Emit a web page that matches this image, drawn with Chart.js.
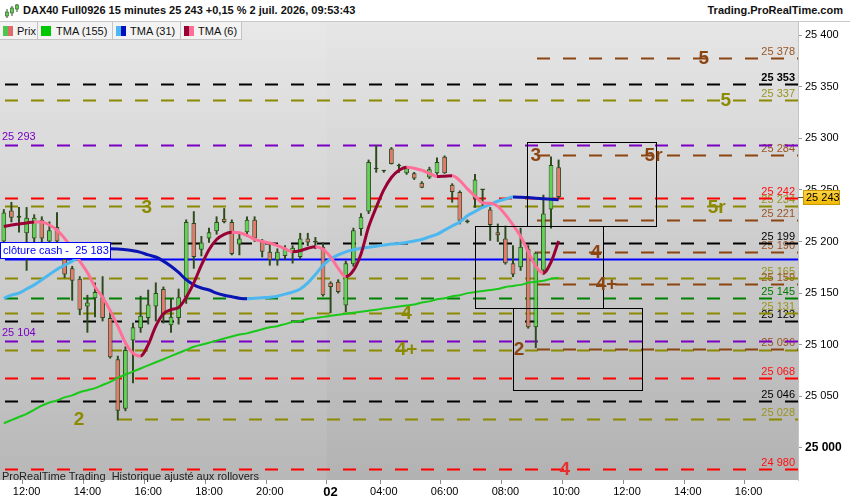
<!DOCTYPE html>
<html>
<head>
<meta charset="utf-8">
<script src="https://cdn.jsdelivr.net/npm/chart.js@4.4.1/dist/chart.umd.min.js"></script>
<style>
body{margin:0;background:#fff;font-family:Arial,"Liberation Sans",sans-serif;}
#wrap{position:relative;width:850px;height:500px;overflow:hidden;}
canvas{position:absolute;left:0;top:0;}
#head{position:absolute;left:0;top:0;width:850px;height:22px;background:#fff;border-bottom:1px solid #c8c8c8;box-sizing:border-box;}
#title{position:absolute;left:23px;top:4px;font-weight:bold;font-size:11px;color:#111;white-space:nowrap;}
#site{position:absolute;right:7px;top:4px;font-weight:bold;font-size:11px;color:#111;}
#icon{position:absolute;left:4px;top:4px;}
#legend{position:absolute;left:0;top:22px;height:18px;display:flex;}
.item{height:18px;box-sizing:border-box;border:1px solid #c4c4c4;border-top:none;border-left:none;background:#f3f3f3;font-size:11px;display:flex;align-items:center;padding-left:3px;color:#111;white-space:nowrap;}
.sw{display:inline-block;width:5px;height:10px;flex:none;}
#foot{position:absolute;left:2px;top:470px;font-size:11px;color:#222;white-space:nowrap;}
</style>
</head>
<body>
<div id="wrap">
  <canvas id="chart-dax" width="850" height="500"></canvas>
  <div id="head">
    <svg id="icon" width="15" height="15" viewBox="0 0 15 15">
      <line x1="3" y1="5" x2="3" y2="14" stroke="#2f4f1f"/><rect x="1.5" y="8" width="3" height="4" fill="#5ad24f" stroke="#2f4f1f" stroke-width="0.6"/>
      <line x1="8" y1="2" x2="8" y2="12" stroke="#2f4f1f"/><rect x="6.5" y="4" width="3" height="5" fill="#5ad24f" stroke="#2f4f1f" stroke-width="0.6"/>
      <line x1="13" y1="0" x2="13" y2="8" stroke="#2f4f1f"/><rect x="11.5" y="1" width="3" height="4" fill="#5ad24f" stroke="#2f4f1f" stroke-width="0.6"/>
    </svg>
    <div id="title">DAX40 Full0926 15 minutes 25 243 +0,15 % 2 juil. 2026, 09:53:43</div>
    <div id="site">Trading.ProRealTime.com</div>
  </div>
  <div id="legend">
    <div class="item" style="width:38px"><span class="sw" style="background:#4ec64e"></span><span class="sw" style="background:#e06a6a"></span><span style="margin-left:4px">Prix</span></div>
    <div class="item" style="width:75px"><span class="sw" style="width:10px;background:#00c800"></span><span style="margin-left:5px">TMA (155)</span></div>
    <div class="item" style="width:68px"><span class="sw" style="background:#4db8f0"></span><span class="sw" style="background:#0010c0"></span><span style="margin-left:4px">TMA (31)</span></div>
    <div class="item" style="width:61px"><span class="sw" style="background:#990033"></span><span class="sw" style="background:#ff6f98"></span><span style="margin-left:4px">TMA (6)</span></div>
  </div>
  <div id="foot">ProRealTime Trading&nbsp; Historique ajusté aux rollovers</div>
</div>
<script>
const FONT = "Arial, 'Liberation Sans', sans-serif";

// sessions shown: day 1 from 11:15 to 21:45, day 2 from 02:15 (empty bars after 09:45)
const sessions = [["1", "11:15", "21:45"], ["2", "02:15", "17:30"]];
const tickBars = ["1 12:00","1 14:00","1 16:00","1 18:00","1 20:00","2 02:15","2 04:00","2 06:00","2 08:00","2 10:00","2 12:00","2 14:00","2 16:00"];
const tickTexts = ["12:00","14:00","16:00","18:00","20:00","02","04:00","06:00","08:00","10:00","12:00","14:00","16:00"];
const yTicks = [25000, 25050, 25100, 25150, 25200, 25250, 25300, 25350, 25400];

const opens = [25200,25230,25223,25208,25203,25221,25200,25214,25183,25174,
  25164,25137,25145,25146,25126,25086,25038,25104,25116,25126,
  25137,25154,25119,25126,25146,25218,25192,25203,25210,25222,
  25219,25197,25209,25221,25200,25190,25182,25186,25189,25185,
  25203,25199,25195,25160,25161,25138,25178,25212,25229,25270,
  25268,25290,25273,25266,25266,25257,25262,25266,25282,25255,
  25248,25219,25242,25250,25231,25209,25203,25179,25175,25193,
  25117,25172,25231,25272];
const highs = [25231,25238,25233,25233,25226,25224,25219,25228,25186,25176,
  25166,25148,25160,25166,25131,25089,25098,25121,25147,25153,
  25160,25156,25145,25154,25221,25229,25205,25213,25224,25232,
  25221,25209,25224,25224,25202,25198,25193,25196,25196,25208,
  25208,25204,25199,25161,25163,25181,25213,25227,25279,25293,
  25269,25291,25275,25272,25267,25258,25272,25281,25283,25256,
  25249,25221,25265,25250,25233,25217,25215,25196,25213,25196,
  25190,25245,25282,25279];
const lows = [25198,25219,25209,25172,25199,25198,25196,25195,25165,25143,
  25129,25112,25127,25123,25087,25027,25036,25063,25112,25120,
  25123,25121,25112,25120,25140,25174,25186,25199,25207,25218,
  25187,25187,25205,25200,25185,25177,25177,25183,25179,25183,
  25196,25193,25147,25131,25150,25132,25176,25206,25227,25267,
  25267,25275,25267,25265,25260,25252,25261,25265,25266,25238,
  25217,25218,25233,25233,25201,25200,25178,25166,25172,25116,
  25097,25168,25213,25242];
const closes = [25228,25223,25225,25223,25223,25203,25211,25200,25168,25162,
  25134,25141,25151,25126,25088,25036,25095,25117,25128,25139,
  25150,25129,25127,25146,25219,25185,25199,25209,25219,25219,
  25188,25203,25221,25203,25190,25182,25190,25193,25194,25203,
  25199,25200,25148,25156,25151,25179,25211,25224,25277,25271,
  25268.5,25275,25273,25271,25261,25252,25270,25277,25266,25248,
  25220,25220,25260,25250,25216,25206,25179,25168,25195,25117,
  25189,25227,25274,25243];

const tma155 = [25024,25027,25030,25033,25037,25041,25044,25046,25049,25051,
  25054,25056,25058,25061,25064,25068,25071,25074,25077,25080,
  25083,25086,25089,25092,25095,25098,25100,25102,25104,25106,
  25108,25110,25111,25113,25115,25117,25118,25120,25122,25123,
  25125,25126,25127,25128,25129,25130,25131,25132,25133,25134,
  25135,25136,25137,25138,25139,25141,25142,25144,25145,25147,
  25148,25150,25151,25152,25153,25154,25156,25157,25158,25160,
  25161,25162,25164,25165];
const tma31 = [25145,25148,25150,25154,25158,25163,25168,25173,25177,25181,
  25185,25188,25191,25192.5,25193,25192.8,25192,25191,25189.5,25187,
  25185,25181,25176,25170,25163,25158,25155,25153,25150,25148,
  25146.5,25145,25144.5,25145,25145.5,25146,25147,25149,25151,25154,
  25160,25168,25177,25183,25187,25190,25192,25193.5,25194.5,25195.5,
  25196.5,25197.5,25198,25199,25200.5,25202,25204.5,25207,25211,25215,
  25219,25225,25229,25233,25236,25239,25241,25243,25242.8,25242.5,
  25242,25241.5,25241,25240.5];
const tma6 = [25214.5,25216,25217,25218,25219,25218.8,25216,25211,25203,25193,
  25181,25170,25156,25146,25133,25118,25102,25092,25089,25100,
  25118,25130,25134,25136,25146,25160,25177,25192,25202,25207,
  25209,25208.5,25206,25202,25200,25198.5,25196,25193,25190,25191,
  25193.5,25195,25192.5,25185,25174,25166,25172,25188,25214,25233,
  25250,25262,25269,25272,25271,25269,25266,25263,25263.3,25263.6,
  25259,25251,25244,25237.5,25237,25234,25226,25216,25205,25190,
  25176,25169.5,25180,25200.5];

// horizontal levels drawn on the chart
const levelPrices = [25378,25353,25337,25293,25284,25242,25234,25221,25199,25190,25183,25165,25159,25145,25131,25123,25104,25095,25096,25068,25046,25028,24980];
const levelFrom   = [70,0,0,0,70,0,0,70,0,70,0,0,70,0,0,0,0,0,70,0,0,15,0];
const levelKinds  = ["brown","black","olive","purple","brown","red","olive","brown","black","brown","blue","olive","brown","green","olive","black","purple","olive","brown","red","black","olive","red"];
const levelSide   = ["right","right","right","left","right","right","right","right","right","right","cash","right","right","right","right","right","left","none","right","right","right","right","right"];

// wave labels: text, price, bar position
const waveTexts  = ["5","5","3","5r","3","5r","4","4+","4","4+","2","2","4"];
const wavePrices = [25378,25337,25284,25284,25234,25234,25190,25159,25131,25096,25096,25028,24980];
const waveBars   = [92.1,95,70,85.5,18.8,93.8,77.9,79.3,53,53,67.8,9.9,73.8];
const waveKinds  = ["brown","olive","brown","brown","olive","olive","brown","brown","olive","olive","brown","olive","red"];

// rectangles: bar from/to, price top/bottom
const boxFrom   = [68.9, 62.0, 67.0];
const boxTo     = [85.8, 78.9, 84.0];
const boxTop    = [25296, 25215, 25136];
const boxBottom = [25215, 25136, 25056];

const lastPrice = 25243;

const colors = {
  brown: "#8b4513", black: "#000000", olive: "#8b8a00", purple: "#7a00c4",
  red: "#ff0000", green: "#008000", blue: "#0000ff"
};
const labelColors = { brown: "#9a5524", black: "#000000", olive: "#9a9420", purple: "#7a00c4",
  red: "#ff1010", green: "#007a00", blue: "#0000ff" };

function buildBarTimes() {
  const out = [];
  sessions.forEach(([day, from, to]) => {
    const toMin = s => parseInt(s.slice(0, 2)) * 60 + parseInt(s.slice(3));
    for (let m = toMin(from); m <= toMin(to); m += 15) {
      const hh = String(Math.floor(m / 60)).padStart(2, "0");
      const mm = String(m % 60).padStart(2, "0");
      out.push(day + " " + hh + ":" + mm);
    }
  });
  return out;
}
const barTimes = buildBarTimes();
const dayStart = barTimes.indexOf("2 02:15");

function fmt(v) {
  return String(Math.round(v)).replace(/\B(?=(\d{3})+(?!\d))/g, " ");
}

const bgPlugin = {
  id: "bg",
  beforeDraw(chart) {
    const { ctx, chartArea: a, scales: { x } } = chart;
    ctx.save();
    const g = ctx.createLinearGradient(0, a.top, 0, a.bottom);
    g.addColorStop(0, "#e6e6e6");
    g.addColorStop(1, "#b2b2b2");
    ctx.fillStyle = g;
    ctx.fillRect(a.left, a.top, a.width, a.height);
    const xb = (x.getPixelForValue(dayStart - 1) + x.getPixelForValue(dayStart)) / 2;
    ctx.fillStyle = "rgba(255,255,255,0.08)";
    ctx.fillRect(a.left, a.top, xb - a.left, a.height);
    ctx.restore();
  }
};

const levelsPlugin = {
  id: "levels",
  beforeDatasetsDraw(chart) {
    const { ctx, chartArea: a, scales: { x, y } } = chart;
    const half = (x.getPixelForValue(1) - x.getPixelForValue(0)) / 2;
    ctx.save();
    ctx.beginPath(); ctx.rect(a.left, a.top, a.width, a.height); ctx.clip();
    // labels first, lines on top of them
    ctx.textBaseline = "alphabetic";
    levelPrices.forEach((p, i) => {
      const py = y.getPixelForValue(p);
      const kind = levelKinds[i];
      if (levelSide[i] === "right") {
        ctx.textAlign = "right";
        ctx.fillStyle = labelColors[kind];
        ctx.font = (p === 25353 ? "bold " : "") + "11px " + FONT;
        ctx.fillText(fmt(p), a.right - 3, py - 3);
      } else if (levelSide[i] === "left") {
        ctx.textAlign = "left";
        ctx.fillStyle = labelColors[kind];
        ctx.font = "11px " + FONT;
        ctx.fillText(fmt(p), a.left + 2, py - 5);
      }
    });
    levelPrices.forEach((p, i) => {
      const py = Math.round(y.getPixelForValue(p)) + 0.5;
      const x0 = levelFrom[i] === 0 ? a.left : x.getPixelForValue(levelFrom[i]) - half;
      ctx.beginPath();
      ctx.strokeStyle = colors[levelKinds[i]];
      ctx.lineWidth = 2;
      ctx.setLineDash(levelKinds[i] === "blue" ? [] : [13, 13]);
      ctx.moveTo(x0 + 5, py);
      ctx.lineTo(a.right, py);
      ctx.stroke();
    });
    ctx.restore();
  },
  afterDatasetsDraw(chart) {
    const { ctx, chartArea: a, scales: { x, y } } = chart;
    ctx.save();
    ctx.beginPath(); ctx.rect(a.left, a.top, a.width, a.height); ctx.clip();
    // rectangles
    ctx.strokeStyle = "#000";
    ctx.lineWidth = 1;
    boxFrom.forEach((b, i) => {
      const x0 = Math.round(x.getPixelForValue(b)) + 0.5;
      const x1 = Math.round(x.getPixelForValue(boxTo[i])) + 0.5;
      const y0 = Math.round(y.getPixelForValue(boxTop[i])) + 0.5;
      const y1 = Math.round(y.getPixelForValue(boxBottom[i])) + 0.5;
      ctx.strokeRect(x0, y0, x1 - x0, y1 - y0);
    });
    // wave labels
    ctx.font = "bold 19px " + FONT;
    ctx.textAlign = "center";
    ctx.textBaseline = "middle";
    waveTexts.forEach((t, i) => {
      ctx.fillStyle = waveKinds[i] === "red" ? "#e83030" : colors[waveKinds[i]];
      ctx.fillText(t, x.getPixelForValue(waveBars[i]), y.getPixelForValue(wavePrices[i]) + 1);
    });
    // cash close label
    const ci = levelSide.indexOf("cash");
    const cy = Math.round(y.getPixelForValue(levelPrices[ci]));
    ctx.fillStyle = "#fff";
    ctx.fillRect(a.left, cy - 17, 110, 17);
    ctx.strokeStyle = "#0000ff";
    ctx.strokeRect(a.left + 0.5, cy - 16.5, 110, 16);
    ctx.fillStyle = "#0000ff";
    ctx.font = "11px " + FONT;
    ctx.textAlign = "left";
    ctx.fillText("clôture cash -  " + fmt(levelPrices[ci]), a.left + 3, cy - 8);
    ctx.restore();
  },
  afterDraw(chart) {
    const { ctx, chartArea: a, scales: { y } } = chart;
    const py = Math.round(y.getPixelForValue(lastPrice));
    ctx.save();
    ctx.strokeStyle = "#555";
    ctx.beginPath(); ctx.moveTo(a.right, py + 0.5); ctx.lineTo(a.right + 5, py + 0.5); ctx.stroke();
    const g = ctx.createLinearGradient(0, py - 7, 0, py + 8);
    g.addColorStop(0, "#ffd54a"); g.addColorStop(1, "#f0b800");
    ctx.fillStyle = g;
    ctx.fillRect(a.right + 5, py - 7, 37, 15);
    ctx.strokeStyle = "#c99a00";
    ctx.strokeRect(a.right + 5.5, py - 6.5, 36, 14);
    ctx.fillStyle = "#000";
    ctx.font = "11px " + FONT;
    ctx.textBaseline = "middle";
    ctx.fillText(fmt(lastPrice), a.right + 8, py + 1);
    ctx.restore();
  }
};

const upDown = (up, down) => ctx => ctx.p1.parsed.y >= ctx.p0.parsed.y ? up : down;
const candleFill = ctx => closes[ctx.dataIndex] >= opens[ctx.dataIndex] ? "#5ed452" : "#e8776c";

new Chart(document.getElementById("chart-dax").getContext("2d"), {
  type: "bar",
  data: {
    labels: barTimes,
    datasets: [
      { type: "line", label: "TMA (6)", data: tma6, order: 0, borderWidth: 3, pointRadius: 0,
        cubicInterpolationMode: "monotone", borderColor: "#ff6f98",
        segment: { borderColor: upDown("#990033", "#ff6f98") } },
      { type: "line", label: "TMA (31)", data: tma31, order: 0, borderWidth: 3, pointRadius: 0,
        cubicInterpolationMode: "monotone", borderColor: "#4db8f0",
        segment: { borderColor: upDown("#4db8f0", "#0a14b4") } },
      { type: "line", label: "TMA (155)", data: tma155, order: 0, borderWidth: 2, pointRadius: 0,
        cubicInterpolationMode: "monotone", borderColor: "#19c819" },
      { label: "Prix", data: opens.map((o, i) => [o, closes[i]]), order: 1, grouped: false,
        backgroundColor: candleFill, borderColor: "#2c4a1c", borderWidth: 1, borderSkipped: false,
        barPercentage: 0.62, categoryPercentage: 1, minBarLength: 1.5 },
      { label: "mèches", data: lows.map((l, i) => [l, highs[i]]), order: 2, grouped: false,
        backgroundColor: "#2c4a1c", barThickness: 1.3, borderWidth: 0 }
    ]
  },
  options: {
    responsive: false,
    animation: false,
    events: [],
    layout: { padding: { top: 22 } },
    plugins: { legend: { display: false }, tooltip: { enabled: false } },
    scales: {
      x: {
        type: "category",
        offset: true,
        afterFit: s => { s.height = 20; },
        grid: {
          drawOnChartArea: false, tickLength: 4,
          color: c => tickBars.includes(barTimes[c.index]) ? "#8a8a8a" : "rgba(0,0,0,0)"
        },
        border: { display: false },
        ticks: {
          autoSkip: false, maxRotation: 0, minRotation: 0, padding: 1, color: "#000",
          font: c => (barTimes[c.index] === "2 02:15")
            ? { family: FONT, size: 13, weight: "bold" }
            : { family: FONT, size: 11 },
          callback: (v, i) => {
            const k = tickBars.indexOf(barTimes[i]);
            return k < 0 ? "" : tickTexts[k];
          }
        }
      },
      y: {
        position: "right",
        min: 24969.0,
        max: 25412.6,
        afterFit: s => { s.width = 52; },
        afterBuildTicks: s => { s.ticks = yTicks.map(v => ({ value: v })); },
        grid: { drawOnChartArea: false, tickLength: 4, color: "#999" },
        border: { color: "#c4c4c4" },
        ticks: {
          padding: 3, color: "#000",
          font: c => (c.tick && c.tick.value === 25000)
            ? { family: FONT, size: 12, weight: "bold" }
            : { family: FONT, size: 11 },
          callback: v => fmt(v)
        }
      }
    }
  },
  plugins: [bgPlugin, levelsPlugin]
});
</script>
</body>
</html>
